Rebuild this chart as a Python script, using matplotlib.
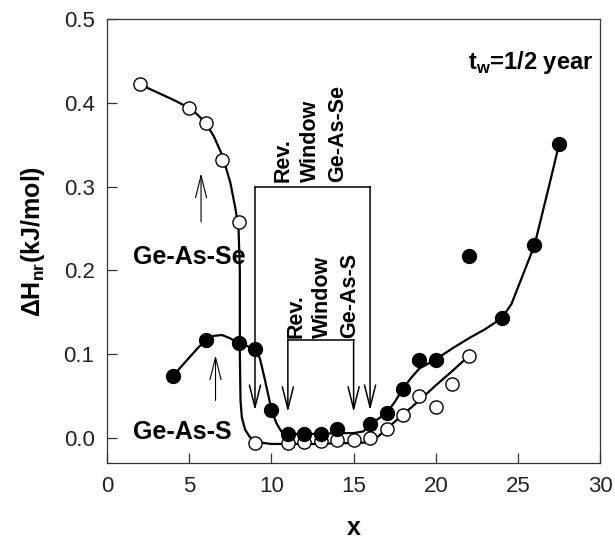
import matplotlib
matplotlib.use("Agg")
import matplotlib.pyplot as plt

plt.rcParams['font.family'] = ['Liberation Sans', 'DejaVu Sans']
plt.rcParams['mathtext.fontset'] = 'custom'
plt.rcParams['mathtext.rm'] = 'Liberation Sans'
plt.rcParams['mathtext.bf'] = 'Liberation Sans:bold'

# Ge-As-Se (open circles)
se_x = [2, 5, 6, 7, 8, 9, 11, 12, 13, 14, 15, 16, 17, 18, 19, 20, 21, 22]
se_y = [0.422, 0.394, 0.376, 0.332, 0.258, -0.006, -0.006, -0.005, -0.004, -0.002,
        -0.002, 0.000, 0.011, 0.027, 0.050, 0.037, 0.064, 0.098]

# Ge-As-S (filled circles)
s_x = [4, 6, 8, 9, 10, 11, 12, 13, 14, 16, 17, 18, 19, 20, 22, 24, 26, 27.5]
s_y = [0.074, 0.117, 0.113, 0.106, 0.034, 0.005, 0.005, 0.005, 0.011, 0.017,
       0.030, 0.059, 0.093, 0.093, 0.217, 0.143, 0.230, 0.351]

# guide-to-the-eye curves
se_fit_x = [2.0, 3.0, 4.0, 5.0, 5.5, 6.0, 6.5, 7.0, 7.5, 7.8, 8.0, 8.08, 8.08, 8.12,
            8.2, 8.4, 8.7, 9.2, 10.0, 11.0, 12.0, 13.0, 14.0, 15.0, 16.0, 16.5,
            17.0, 18.0, 19.0, 20.0, 21.0, 22.0]
se_fit_y = [0.422, 0.413, 0.404, 0.394, 0.386, 0.376, 0.360, 0.338, 0.305, 0.275,
            0.250, 0.200, 0.100, 0.045, 0.025, 0.010, 0.001, -0.005, -0.007,
            -0.007, -0.007, -0.007, -0.006, -0.006, -0.005, 0.002, 0.011, 0.028,
            0.045, 0.063, 0.080, 0.098]

s_fit_x = [4.0, 4.5, 5.0, 5.5, 6.0, 6.5, 7.0, 7.5, 8.0, 8.5, 9.0, 9.3, 9.6, 10.0,
           10.3, 10.6, 11.0, 12.0, 13.0, 14.0, 15.0, 15.6, 16.0, 16.5, 17.0, 17.5,
           18.0, 18.5, 19.0, 20.0, 21.0, 22.0, 23.0, 24.0, 24.6, 25.3, 26.0, 26.5,
           27.0, 27.5]
s_fit_y = [0.074, 0.085, 0.096, 0.107, 0.117, 0.122, 0.123, 0.119, 0.113, 0.110,
           0.106, 0.095, 0.070, 0.034, 0.018, 0.008, 0.005, 0.005, 0.005, 0.006,
           0.006, 0.008, 0.017, 0.023, 0.030, 0.043, 0.059, 0.072, 0.083, 0.094,
           0.107, 0.119, 0.130, 0.143, 0.160, 0.195, 0.230, 0.270, 0.310, 0.351]

fig = plt.figure(figsize=(6.15, 5.45), dpi=100)
ax = fig.add_axes([0.174, 0.150, 0.802, 0.815])

ax.plot(se_fit_x, se_fit_y, color='black', lw=1.6, zorder=2)
ax.plot(s_fit_x, s_fit_y, color='black', lw=1.6, zorder=2)
ax.plot(se_x, se_y, 'o', ms=9.5, mfc='white', mec='black', mew=1.0, zorder=3)
ax.plot(s_x, s_y, 'o', ms=10, mfc='black', mec='black', zorder=4)

ax.set_xlim(0, 30)
ax.set_ylim(-0.03, 0.5)
ax.set_xticks([0, 5, 10, 15, 20, 25, 30])
ax.set_yticks([0.0, 0.1, 0.2, 0.3, 0.4, 0.5])
ax.set_yticklabels(['0.0', '0.1', '0.2', '0.3', '0.4', '0.5'])
ax.tick_params(direction='in', length=7, width=0.9, labelsize=16, pad=9,
               color='#333333', labelcolor='#222222')
for sp in ax.spines.values():
    sp.set_linewidth(0.9)
    sp.set_color('#333333')

ax.set_xlabel('x', fontsize=18, fontweight='bold', labelpad=14)
ax.set_ylabel(r'ΔH$_{\mathbf{nr}}$(kJ/mol)', fontsize=18, fontweight='bold', labelpad=12)

ax.text(29.6, 0.448, r't$_{\mathbf{w}}$=1/2 year', fontsize=17, fontweight='bold',
        ha='right', va='center')
ax.text(1.6, 0.216, 'Ge-As-Se', fontsize=18, fontweight='bold', ha='left', va='center')
ax.text(1.6, 0.007, 'Ge-As-S', fontsize=18, fontweight='bold', ha='left', va='center')

# reversibility windows
head = '->,head_length=1.6,head_width=0.4'
big_l, big_r, big_top, big_tip = 9, 16, 0.300, 0.033
small_l, small_r, small_top, small_tip = 11, 15, 0.117, 0.031
for l, r, top, tip in [(big_l, big_r, big_top, big_tip),
                       (small_l, small_r, small_top, small_tip)]:
    ax.plot([l, r], [top, top], color='black', lw=1.1)
    for xx in (l, r):
        ax.annotate('', xy=(xx, tip), xytext=(xx, top),
                    arrowprops=dict(arrowstyle=head, color='black', lw=1.1,
                                    shrinkA=0, shrinkB=0))

for xx, s in [(10.7, 'Rev.'), (12.35, 'Window'), (14.0, 'Ge-As-Se')]:
    ax.text(xx, 0.306, s, rotation=90, fontsize=15.5, fontweight='bold',
            ha='center', va='bottom')
for xx, s in [(11.5, 'Rev.'), (13.1, 'Window'), (14.75, 'Ge-As-S')]:
    ax.text(xx, 0.120, s, rotation=90, fontsize=15.5, fontweight='bold',
            ha='center', va='bottom')

# thin up arrows
ax.annotate('', xy=(5.72, 0.316), xytext=(5.72, 0.258),
            arrowprops=dict(arrowstyle=head, color='black', lw=0.8,
                            shrinkA=0, shrinkB=0))
ax.annotate('', xy=(6.6, 0.099), xytext=(6.6, 0.045),
            arrowprops=dict(arrowstyle=head, color='black', lw=0.8,
                            shrinkA=0, shrinkB=0))

fig.savefig('out.png', dpi=100)
